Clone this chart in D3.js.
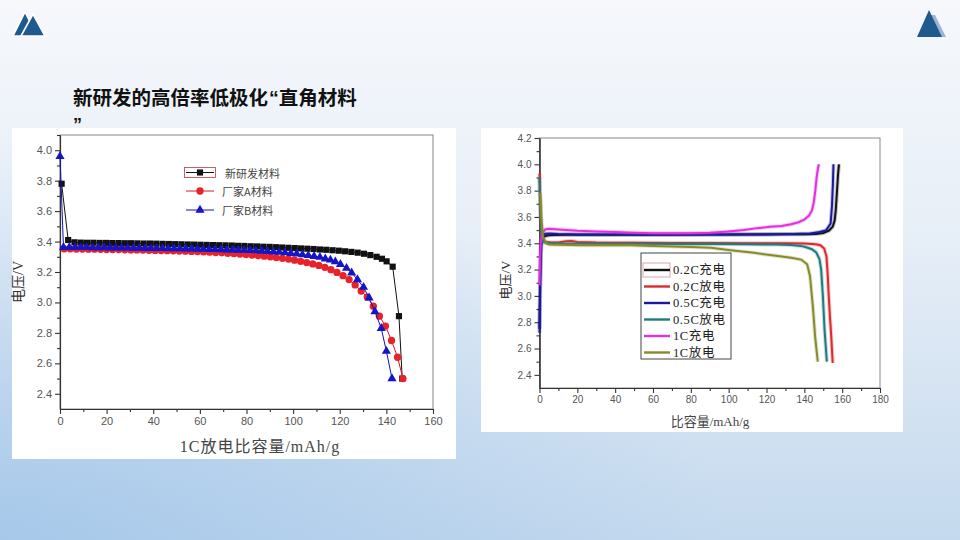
<!DOCTYPE html>
<html>
<head>
<meta charset="utf-8">
<script src="https://cdn.jsdelivr.net/npm/d3@7"></script>
<style>
  html, body { margin: 0; padding: 0; overflow: hidden; background: #fff; }
  svg { display: block; }
</style>
</head>
<body>
<svg id="slide" width="960" height="540"></svg>
<script>
// ---- left chart: 1C discharge of three materials ----
const capNew = [0.7, 3.5, 6.2, 8.9, 11.6, 14.3, 17, 19.7, 22.4, 25.1, 27.8, 30.5, 33.2, 35.9, 38.6, 41.3, 44, 46.7, 49.4, 52.1,
  54.8, 57.5, 60.2, 62.9, 65.6, 68.3, 71, 73.7, 76.4, 79.1, 81.8, 84.5, 87.2, 89.9, 92.6, 95.3, 98, 100.7, 103.4, 106.1,
  108.8, 111.5, 114.2, 116.9, 119.6, 122.3, 125, 127.7, 130.4, 133.1, 135.8, 138.1, 140.1, 142.7, 145.4, 146.8];
const voltNew = [3.78, 3.41, 3.395, 3.393, 3.392, 3.392, 3.391, 3.391, 3.390, 3.390, 3.389, 3.389, 3.388, 3.387, 3.387, 3.386, 3.385, 3.384, 3.383, 3.382,
  3.381, 3.380, 3.379, 3.378, 3.377, 3.376, 3.375, 3.374, 3.372, 3.371, 3.369, 3.368, 3.366, 3.365, 3.363, 3.361, 3.359, 3.357, 3.355, 3.353,
  3.351, 3.348, 3.346, 3.343, 3.340, 3.336, 3.332, 3.327, 3.320, 3.311, 3.300, 3.287, 3.270, 3.235, 2.91, 2.50];

const capA = [1.8, 4.4, 7.0, 9.6, 12.2, 14.8, 17.4, 20.0, 22.6, 25.2, 27.8, 30.4, 33.0, 35.6, 38.2, 40.8, 43.4, 46.0, 48.6, 51.2,
  53.8, 56.4, 59.0, 61.6, 64.2, 66.8, 69.4, 72.0, 74.6, 77.2, 79.8, 82.4, 85.0, 87.6, 90.2, 92.8, 95.4, 98.0, 100.6, 103.2,
  105.8, 108.4, 111.0, 113.6, 116.2, 118.8, 121.4, 124.0, 126.6, 129.2, 131.8, 134.4, 137.0, 139.6, 142.2, 144.8, 147.1];
const voltA = [3.352, 3.352, 3.351, 3.351, 3.350, 3.350, 3.349, 3.348, 3.348, 3.347, 3.346, 3.345, 3.345, 3.344, 3.343, 3.342, 3.341, 3.340, 3.339, 3.338,
  3.337, 3.335, 3.334, 3.332, 3.330, 3.328, 3.326, 3.323, 3.321, 3.318, 3.315, 3.311, 3.308, 3.304, 3.300, 3.295, 3.290, 3.285, 3.278, 3.270,
  3.262, 3.253, 3.243, 3.231, 3.215, 3.197, 3.176, 3.150, 3.115, 3.075, 3.035, 2.975, 2.91, 2.845, 2.75, 2.64, 2.50];

const capB = [0, 1.5, 4.0, 6.5, 9.0, 11.5, 14.0, 16.5, 19.0, 21.5, 24.0, 26.5, 29.0, 31.5, 34.0, 36.5, 39.0, 41.5, 44.0, 46.5,
  49.0, 51.5, 54.0, 56.5, 59.0, 61.5, 64.0, 66.5, 69.0, 71.5, 74.0, 76.5, 79.0, 81.5, 84.0, 86.5, 89.0, 91.5, 94.0, 96.5,
  99.0, 101.5, 104.0, 106.5, 109.0, 111.5, 113.8, 116.0, 118.1, 120.3, 122.9, 125.1, 127.6, 130.2, 132.6, 135.1, 137.8, 140.0, 142.4];
const voltB = [3.96, 3.362, 3.362, 3.362, 3.361, 3.361, 3.360, 3.360, 3.360, 3.359, 3.359, 3.358, 3.358, 3.357, 3.357, 3.356, 3.356, 3.355, 3.355, 3.354,
  3.354, 3.353, 3.352, 3.352, 3.351, 3.350, 3.349, 3.348, 3.347, 3.346, 3.345, 3.344, 3.343, 3.342, 3.340, 3.338, 3.336, 3.333, 3.330, 3.327,
  3.323, 3.319, 3.314, 3.309, 3.303, 3.297, 3.287, 3.279, 3.268, 3.25, 3.225, 3.195, 3.15, 3.10, 3.03, 2.94, 2.83, 2.68, 2.50];

const leftNames = ['新研发材料', '厂家A材料', '厂家B材料'];
const leftXTicks = [0, 20, 40, 60, 80, 100, 120, 140, 160];
const leftYTicks = [2.4, 2.6, 2.8, 3.0, 3.2, 3.4, 3.6, 3.8, 4.0];

// ---- right chart: charge / discharge at three rates ----
const cap02Chg = [0, 0.3, 0.8, 1.5, 3, 5, 8, 15, 30, 50, 70, 90, 110, 130, 140, 146, 150, 153, 155, 156, 156.6, 157.2, 157.8, 158.3];
const volt02Chg = [2.75, 3.1, 3.38, 3.44, 3.455, 3.46, 3.463, 3.465, 3.465, 3.465, 3.465, 3.466, 3.467, 3.468, 3.469, 3.471, 3.478, 3.495, 3.525, 3.57, 3.65, 3.78, 3.92, 4.0];
const cap02Dis = [0, 0.3, 0.8, 1.5, 3, 6, 10, 14, 17, 20, 30, 50, 70, 90, 110, 130, 140, 146, 148.5, 150.5, 151.7, 152.4, 152.9, 153.5, 154.2, 155];
const volt02Dis = [3.93, 3.75, 3.55, 3.43, 3.41, 3.405, 3.405, 3.415, 3.418, 3.41, 3.405, 3.403, 3.402, 3.402, 3.401, 3.40, 3.398, 3.393, 3.385, 3.36, 3.30, 3.15, 3.0, 2.85, 2.70, 2.49];
const cap05Chg = [0, 0.3, 0.7, 1.3, 3, 5.7, 10, 20, 40, 60, 80, 100, 120, 135, 143, 148, 151.6, 153.9, 154.6, 155.1, 155.4];
const volt05Chg = [2.72, 3.0, 3.3, 3.46, 3.472, 3.475, 3.47, 3.467, 3.466, 3.466, 3.466, 3.467, 3.468, 3.470, 3.475, 3.485, 3.50, 3.55, 3.68, 3.85, 4.0];
const cap05Dis = [0, 0.3, 0.8, 1.5, 3, 6, 10, 30, 50, 70, 90, 110, 125, 133, 138, 141, 144, 146.3, 148, 148.9, 149.8, 150.7, 151.9];
const volt05Dis = [3.90, 3.72, 3.52, 3.42, 3.405, 3.40, 3.398, 3.397, 3.396, 3.395, 3.394, 3.393, 3.39, 3.387, 3.38, 3.37, 3.355, 3.33, 3.28, 3.20, 3.0, 2.74, 2.50];
const cap1Chg = [0, 0.3, 0.8, 1.5, 3, 5, 10, 20, 30, 40, 50, 60, 70, 80, 90, 100, 108, 115, 122, 128, 133, 137, 140, 142.5, 144, 145, 145.8, 146.5, 147.2, 147.7];
const volt1Chg = [3.08, 3.3, 3.43, 3.48, 3.505, 3.51, 3.505, 3.495, 3.49, 3.485, 3.48, 3.477, 3.476, 3.477, 3.48, 3.49, 3.50, 3.515, 3.525, 3.532, 3.545, 3.56, 3.58, 3.61, 3.65, 3.71, 3.80, 3.90, 3.97, 4.0];
const cap1Dis = [0, 0.4, 0.9, 1.8, 3.5, 5, 10, 22, 35, 48, 60, 70, 80, 90.6, 101, 113.5, 124, 133, 138.3, 141.5, 143, 144.5, 145.7, 147.1];
const volt1Dis = [3.76, 3.78, 3.6, 3.45, 3.40, 3.39, 3.388, 3.385, 3.385, 3.384, 3.38, 3.376, 3.372, 3.365, 3.347, 3.327, 3.307, 3.29, 3.276, 3.24, 3.15, 2.92, 2.69, 2.50];

const rightNames = ['0.2C充电', '0.2C放电', '0.5C充电', '0.5C放电', '1C充电', '1C放电'];
const rightXTicks = [0, 20, 40, 60, 80, 100, 120, 140, 160, 180];
const rightYTicks = [2.4, 2.6, 2.8, 3.0, 3.2, 3.4, 3.6, 3.8, 4.0, 4.2];

const SANS = 'Liberation Sans, Arial, sans-serif';
const SERIF = 'Liberation Serif, "Noto Sans CJK SC", serif';
const CJK = '"Noto Sans CJK SC", sans-serif';

let svg = d3.select('#slide');

function slideBackground() {
  let defs = svg.append('defs');
  let v = defs.append('linearGradient').attr('id', 'bgV')
    .attr('x1', 0).attr('y1', 0).attr('x2', 0).attr('y2', 1);
  v.append('stop').attr('offset', '0%').attr('stop-color', '#f6f8fc');
  v.append('stop').attr('offset', '45%').attr('stop-color', '#e6eef7');
  v.append('stop').attr('offset', '100%').attr('stop-color', '#c4d9ee');
  let r = defs.append('radialGradient').attr('id', 'bgR')
    .attr('cx', 0).attr('cy', 1).attr('r', 0.75);
  r.append('stop').attr('offset', '0%').attr('stop-color', '#93bde7').attr('stop-opacity', 0.6);
  r.append('stop').attr('offset', '100%').attr('stop-color', '#93bde7').attr('stop-opacity', 0);
  svg.append('rect').attr('width', 960).attr('height', 540).attr('fill', 'url(#bgV)');
  svg.append('rect').attr('width', 960).attr('height', 540).attr('fill', 'url(#bgR)');

  // corner logos
  let logo = svg.append('g');
  logo.append('polygon').attr('points', '13,36 25,12 37,36')
    .attr('fill', '#1f5a8f').attr('stroke', '#fff').attr('stroke-width', 1.6);
  logo.append('polygon').attr('points', '21,36 33,14 45,36')
    .attr('fill', '#1f5a8f').attr('stroke', '#fff').attr('stroke-width', 1.6);
  svg.append('polygon').attr('points', '930,15 935,15 946,37 926,37').attr('fill', '#9cb4d4');
  svg.append('polygon').attr('points', '929,10 917,37 942,37').attr('fill', '#1f5a8f');

  // title wraps after the closing quote, as on the slide
  let title = svg.append('text')
    .attr('x', 73).attr('y', 105)
    .attr('font-family', CJK)
    .attr('font-weight', 'bold')
    .attr('font-size', 19.5)
    .attr('fill', '#111');
  title.append('tspan').text('新研发的高倍率低极化');
  title.append('tspan').attr('font-family', SANS).attr('dx', 1).text('“');
  title.append('tspan').text('直角材料');
  svg.append('text')
    .attr('x', 73).attr('y', 131)
    .attr('font-family', SANS).attr('font-weight', 'bold')
    .attr('font-size', 18).attr('fill', '#111')
    .text('”');
}

function axes(g, x, y, opt) {
  let [x0, x1] = x.range(), [y0, y1] = y.range();
  g.append('rect')
    .attr('x', x0).attr('y', y1).attr('width', x1 - x0).attr('height', y0 - y1)
    .attr('fill', 'none').attr('stroke', '#888').attr('stroke-width', 1);

  let xa = g.append('g').attr('transform', `translate(0,${y0})`);
  xa.append('g').call(d3.axisBottom(x).tickValues(opt.xMinor).tickSize(3).tickSizeOuter(0).tickFormat(''));
  xa.append('g').call(d3.axisBottom(x).tickValues(opt.xTicks).tickSize(5).tickSizeOuter(0).tickPadding(3)
    .tickFormat(d3.format('d')));

  let ya = g.append('g').attr('transform', `translate(${x0},0)`);
  ya.append('g').call(d3.axisLeft(y).tickValues(opt.yMinor).tickSize(3).tickSizeOuter(0).tickFormat(''));
  ya.append('g').call(d3.axisLeft(y).tickValues(opt.yTicks).tickSize(5).tickSizeOuter(0).tickPadding(3)
    .tickFormat(d3.format('.1f')));

  g.selectAll('.domain, .tick line').attr('stroke', '#333').attr('stroke-width', 1.1);
  g.selectAll('.tick text')
    .attr('font-family', opt.tickFont)
    .attr('font-size', opt.tickSize)
    .attr('fill', '#555');
}

function leftChart() {
  let g = svg.append('g');
  g.append('rect').attr('x', 12).attr('y', 128).attr('width', 444).attr('height', 331).attr('fill', '#fff');

  let x = d3.scaleLinear().domain([0, 160]).range([60, 433]);
  let y = d3.scaleLinear().domain([2.3, 4.1]).range([409, 135]);

  axes(g, x, y, {
    xTicks: leftXTicks, xMinor: leftXTicks.slice(0, -1).map(d => d + 10),
    yTicks: leftYTicks, yMinor: leftYTicks.map(d => d + 0.1),
    tickFont: SANS, tickSize: 11
  });

  g.append('text')
    .attr('x', 260).attr('y', 452).attr('text-anchor', 'middle')
    .attr('font-family', SERIF).attr('font-size', 16).attr('fill', '#444')
    .attr('letter-spacing', 1)
    .text('1C放电比容量/mAh/g');
  g.append('text')
    .attr('transform', 'translate(23,282) rotate(-90)').attr('text-anchor', 'middle')
    .attr('font-family', SERIF).attr('font-size', 14).attr('fill', '#333')
    .text('电压/V');

  let series = [
    { cap: capNew, volt: voltNew, color: '#111', fill: '#111', sym: d3.symbolSquare, size: 38 },
    { cap: capA, volt: voltA, color: '#d9141c', fill: '#e8222b', sym: d3.symbolCircle, size: 42 },
    { cap: capB, volt: voltB, color: '#1212b8', fill: '#1515c8', sym: d3.symbolTriangle, size: 36 }
  ];
  let line = d3.line().x(d => x(d[0])).y(d => y(d[1]));

  series.forEach(s => {
    let pts = d3.zip(s.cap, s.volt);
    g.append('path').datum(pts)
      .attr('d', line).attr('fill', 'none')
      .attr('stroke', s.color).attr('stroke-width', 1);
    g.append('g').selectAll('path')
      .data(pts)
      .enter()
      .append('path')
      .attr('transform', d => `translate(${x(d[0])},${y(d[1])})`)
      .attr('d', d3.symbol(s.sym, s.size))
      .attr('fill', s.fill);
  });

  // legend
  let lg = g.append('g');
  lg.append('rect').attr('x', 184.5).attr('y', 167.5).attr('width', 31).attr('height', 10)
    .attr('fill', 'none').attr('stroke', '#c0393f').attr('stroke-width', 0.8);
  let rows = [172.5, 191, 210];
  series.forEach((s, i) => {
    lg.append('line').attr('x1', 186).attr('x2', 214).attr('y1', rows[i]).attr('y2', rows[i])
      .attr('stroke', s.color).attr('stroke-width', 1);
    lg.append('path').attr('transform', `translate(200,${rows[i]})`)
      .attr('d', d3.symbol(s.sym, s.size)).attr('fill', s.fill);
    lg.append('text').attr('x', i == 0 ? 225 : 222).attr('y', rows[i])
      .attr('dominant-baseline', 'central')
      .attr('font-family', CJK).attr('font-size', 11).attr('fill', '#444')
      .text(leftNames[i]);
  });
}

function rightChart() {
  let g = svg.append('g');
  g.append('rect').attr('x', 481).attr('y', 128).attr('width', 422).attr('height', 304).attr('fill', '#fff');

  let x = d3.scaleLinear().domain([0, 180]).range([539.5, 880]);
  let y = d3.scaleLinear().domain([2.3, 4.2]).range([388, 138]);

  axes(g, x, y, {
    xTicks: rightXTicks, xMinor: rightXTicks.slice(0, -1).map(d => d + 10),
    yTicks: rightYTicks, yMinor: rightYTicks.slice(0, -1).map(d => d + 0.1),
    tickFont: '"Liberation Sans Narrow", ' + SANS, tickSize: 10
  });

  g.append('text')
    .attr('x', 710).attr('y', 426).attr('text-anchor', 'middle')
    .attr('font-family', SERIF).attr('font-size', 13).attr('fill', '#444')
    .text('比容量/mAh/g');
  g.append('text')
    .attr('transform', 'translate(510,280) rotate(-90)').attr('text-anchor', 'middle')
    .attr('font-family', SERIF).attr('font-size', 13).attr('fill', '#333')
    .text('电压/V');

  let curves = [
    { cap: cap02Chg, volt: volt02Chg, color: '#111111' },
    { cap: cap02Dis, volt: volt02Dis, color: '#dd2a2e' },
    { cap: cap05Chg, volt: volt05Chg, color: '#1a1aa0' },
    { cap: cap05Dis, volt: volt05Dis, color: '#1f7b7e' },
    { cap: cap1Chg, volt: volt1Chg, color: '#e030e0' },
    { cap: cap1Dis, volt: volt1Dis, color: '#878b2c' }
  ];
  let line = d3.line().x(d => x(d[0])).y(d => y(d[1]));

  curves.forEach(c => {
    let pts = d3.zip(c.cap, c.volt);
    g.append('path').datum(pts)
      .attr('d', line).attr('fill', 'none')
      .attr('stroke', c.color).attr('stroke-opacity', 0.25).attr('stroke-width', 4);
    g.append('path').datum(pts)
      .attr('d', line).attr('fill', 'none')
      .attr('stroke', c.color).attr('stroke-width', 2);
  });

  // legend
  let lg = g.append('g');
  lg.append('rect').attr('x', 641).attr('y', 253).attr('width', 90).attr('height', 106)
    .attr('fill', '#fff').attr('stroke', '#444').attr('stroke-width', 1);
  lg.append('rect').attr('x', 643).attr('y', 263).attr('width', 27).attr('height', 14)
    .attr('fill', 'none').attr('stroke', '#e6a0a6').attr('stroke-width', 1);
  let rows = [270, 286.5, 303, 319.5, 336, 352.5];
  curves.forEach((c, i) => {
    lg.append('line').attr('x1', 644).attr('x2', 670).attr('y1', rows[i]).attr('y2', rows[i])
      .attr('stroke', c.color).attr('stroke-width', 2.4);
    lg.append('text').attr('x', 673).attr('y', rows[i])
      .attr('dominant-baseline', 'central')
      .attr('font-family', SERIF).attr('font-size', 12.5).attr('fill', '#222')
      .attr('letter-spacing', 0.6)
      .text(rightNames[i]);
  });
}

slideBackground();
leftChart();
rightChart();
</script>
</body>
</html>
